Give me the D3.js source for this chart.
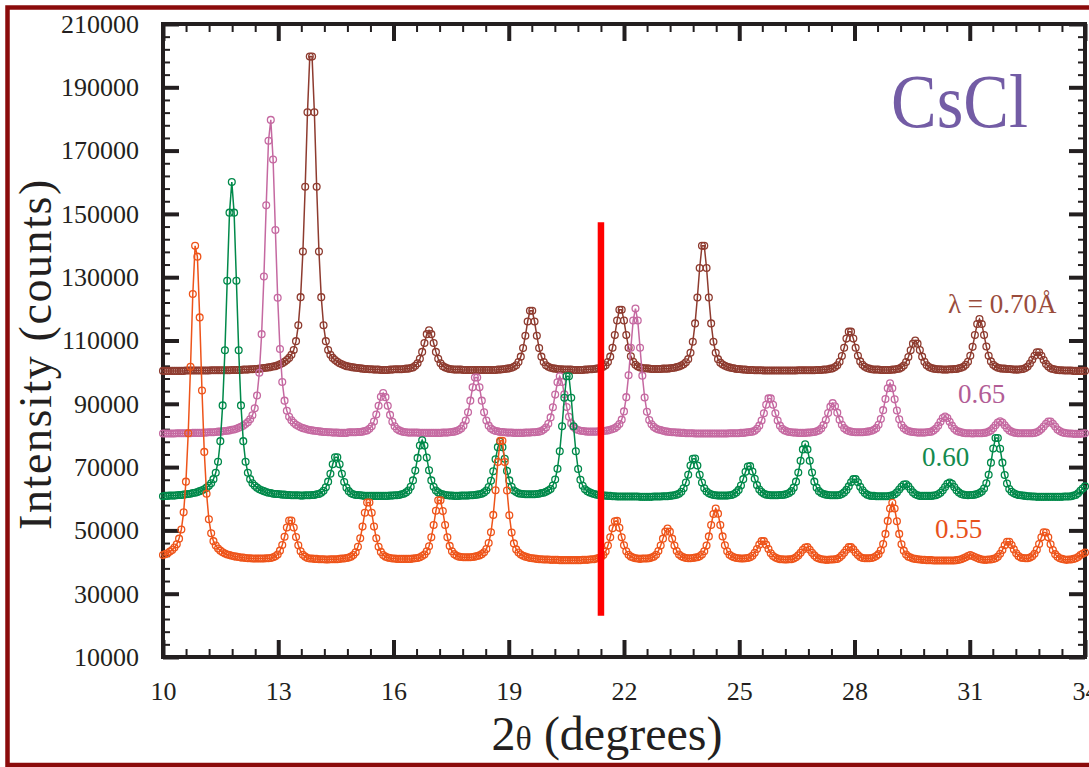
<!DOCTYPE html>
<html>
<head>
<meta charset="utf-8">
<script src="https://cdn.jsdelivr.net/npm/d3@7"></script>
<style>
  html, body { margin: 0; padding: 0; background: #ffffff; }
  svg { display: block; }
</style>
</head>
<body>
<svg id="chart" width="1089" height="767"></svg>
<script>
// Powder diffraction scans of CsCl recorded at four wavelengths.
// Every scan starts at 2θ = 10° and advances by a constant step per point.
const scanStart = 10;
const scanStep = 0.0597;

// λ = 0.70 Å (counts)
const int070 = [
100400,100400,100400,100400,100400,100400,100400,100400,100400,100400,100500,100500,100500,100500,100500,100500,100500,100500,100500,100500,
100500,100600,100600,100600,100600,100600,100600,100600,100600,100600,100700,100700,100700,100700,100700,100800,100800,100800,100900,100900,
101000,101000,101100,101200,101300,101400,101500,101600,101800,101900,102200,102500,102800,103300,103800,104500,105500,107000,109800,114800,
123700,138100,158600,182100,199700,199700,182100,158600,138100,123700,114800,109800,107000,105500,104500,103800,103300,102800,102500,102200,
101900,101800,101600,101500,101400,101300,101200,101100,101000,101000,100900,100900,100800,100800,100800,100700,100700,100700,100700,100800,
100800,100900,100900,100900,100900,101000,101100,101100,101300,101500,102000,102800,104200,106400,109200,112000,113200,112000,109200,106400,
104200,102800,101900,101500,101200,101000,100900,100800,100800,100800,100800,100700,100700,100700,100700,100700,100700,100700,100700,100700,
100700,100700,100700,100700,100700,100700,100800,100800,100900,101000,101100,101200,101400,101700,102200,103200,104900,107600,111500,116000,
119400,119400,116000,111500,107600,104900,103200,102200,101700,101400,101200,101100,101000,100900,100900,100800,100800,100800,100800,100700,
100700,100700,100700,100700,100800,100800,100900,100900,101000,101100,101200,101400,101700,102200,103200,104900,107700,111700,116300,119700,
119700,116300,111700,107700,105000,103300,102300,101800,101500,101300,101200,101200,101100,101000,101000,101000,101000,101000,101100,101100,
101100,101200,101300,101400,101600,101800,102100,102500,103100,104100,106100,109600,115400,123600,132900,139900,139900,132900,123600,115400,
109600,106100,104100,103000,102400,102000,101700,101500,101300,101200,101000,101000,100900,100800,100800,100700,100700,100700,100600,100600,
100600,100600,100500,100500,100500,100500,100500,100500,100500,100500,100500,100500,100500,100500,100500,100500,100500,100600,100600,100600,
100600,100600,100600,100600,100600,100700,100700,100700,100800,100800,100900,101100,101200,101600,102200,103300,105100,107700,110600,112800,
112800,110600,107700,105200,103400,102300,101700,101300,101100,100900,100800,100800,100800,100700,100700,100700,100700,100700,100800,100800,
101000,101100,101500,102100,103200,104800,106900,109000,110000,109000,107000,104900,103300,102200,101600,101300,101100,101000,100900,100900,
100800,100800,100800,100900,100900,101000,101000,101200,101400,101700,102300,103300,105200,108000,111700,115200,116800,115200,111700,108100,
105200,103400,102300,101800,101400,101200,101100,101100,101000,101000,100900,100800,100800,100800,100900,101000,101300,101800,102700,103900,
105200,106300,106300,105200,103800,102600,101800,101200,101000,100800,100700,100600,100600,100500,100500,100500,100500,100400,100400,100400,
100400,100400,100400
];

// λ = 0.65 Å (counts)
const int065 = [
80600,80600,80600,80600,80600,80600,80700,80700,80700,80700,80700,80700,80700,80800,80800,80800,80800,80800,80900,80900,
81000,81000,81000,81100,81200,81200,81300,81400,81500,81600,81800,81900,82100,82400,82700,83100,83600,84200,85100,86400,
88600,92600,99800,112000,130200,152700,173100,179700,167200,144900,123500,107300,96900,91000,87800,85900,84800,84000,83400,83000,
82600,82300,82100,81900,81700,81600,81500,81400,81300,81200,81100,81100,81000,81000,80900,80900,80900,80800,80800,80800,
80800,81000,81000,81000,81000,81100,81100,81200,81400,81600,82100,82900,84400,86600,89400,92200,93400,92100,89400,86500,
84300,82900,82000,81600,81300,81100,81000,80900,80900,80900,80900,80900,80800,80800,80800,80800,80800,80800,80800,80800,
80800,80800,80900,80900,80900,81000,81100,81200,81400,81700,82200,83100,84700,87300,91000,95200,98300,98300,95200,91000,
87300,84700,83100,82200,81700,81400,81300,81100,81100,81000,80900,80900,80900,80800,80800,80800,80800,80800,80900,80900,
80900,81000,81000,81100,81200,81400,81900,82500,83700,85700,88900,92900,96800,98700,96900,93000,89000,85900,83800,82700,
82000,81700,81500,81400,81300,81200,81200,81200,81200,81200,81300,81300,81400,81500,81600,81800,82000,82300,82800,83600,
85000,87600,92100,99000,107700,116300,120100,116300,107700,98900,92000,87500,84900,83500,82700,82200,81900,81700,81500,81300,
81200,81100,81000,81000,80900,80900,80800,80800,80700,80700,80700,80700,80600,80600,80600,80600,80600,80600,80600,80600,
80600,80600,80600,80600,80600,80600,80600,80700,80700,80700,80700,80700,80800,80800,80900,81000,81100,81200,81500,82100,
83100,84700,87000,89700,91700,91700,89700,87000,84700,83100,82100,81600,81300,81100,81000,80900,80900,80800,80800,80800,
80800,80900,80900,81000,81100,81300,81600,82200,83300,84900,87100,89100,90200,89200,87200,85000,83400,82300,81700,81400,
81200,81100,81000,81000,81000,81000,81100,81200,81300,81500,81800,82300,83400,85200,88000,91500,94900,96500,94900,91400,
87900,85100,83300,82300,81700,81400,81200,81100,81000,80900,80900,80900,80900,81000,81100,81200,81600,82200,83100,84300,
85500,86000,85500,84300,83100,82100,81500,81200,81000,80800,80700,80700,80700,80600,80700,80700,80700,80700,80800,80900,
81200,81600,82300,83200,84100,84500,84100,83200,82300,81600,81200,80900,80800,80700,80700,80700,80700,80700,80700,80700,
80800,81000,81400,82000,82800,83700,84400,84400,83700,82800,81900,81400,81000,80800,80700,80600,80600,80500,80500,80500,
80500,80600,80700
];

// λ = 0.60 Å (counts)
const int060 = [
60800,60900,60900,61000,61000,61000,61100,61200,61200,61300,61400,61500,61600,61800,61900,62100,62400,62700,63000,63500,
64100,64900,66200,68200,71700,78200,89500,106900,128900,150400,160100,150400,128900,106900,89500,78200,71700,68200,66200,64900,
64100,63500,63000,62700,62400,62100,61900,61800,61600,61500,61500,61400,61300,61300,61200,61200,61100,61100,61100,61100,
61000,61000,61100,61100,61100,61200,61200,61400,61500,61900,62500,63600,65400,67900,70900,73100,73100,70900,67900,65300,
63500,62400,61700,61400,61200,61200,61100,61000,60900,60900,60900,60900,60900,60900,60900,60900,60900,60900,60900,61000,
61000,61100,61100,61200,61400,61600,62000,62600,63800,65800,68900,72900,76800,78500,76800,73000,69000,65800,63800,62600,
62000,61600,61400,61200,61100,61000,61000,60900,60900,60900,61000,61000,61000,61000,61100,61100,61200,61300,61400,61600,
62000,62600,63700,65700,68700,72500,76300,78000,76300,72600,68800,65800,63800,62600,62100,61700,61600,61500,61400,61400,
61400,61400,61400,61500,61600,61800,61900,62200,62600,63100,64200,66100,69500,75000,82900,91900,98700,98700,91900,82900,
75000,69400,66000,64100,63000,62400,62000,61700,61500,61300,61200,61100,61000,61000,60900,60900,60800,60800,60700,60700,
60700,60700,60700,60700,60700,60700,60700,60700,60600,60600,60600,60600,60600,60600,60700,60700,60700,60700,60800,60800,
60800,60900,61000,61100,61300,61600,62200,63300,65100,67600,70500,72600,72700,70500,67600,65100,63300,62300,61700,61400,
61200,61100,61000,61000,61000,61000,61000,61100,61200,61500,62000,62800,64200,66200,68500,70200,70300,68600,66300,64300,
62900,62100,61600,61300,61200,61100,61100,61100,61100,61200,61200,61300,61500,61800,62400,63500,65400,68300,72000,75600,
77200,75600,72000,68300,65400,63500,62400,61800,61500,61300,61200,61100,61100,61100,61100,61200,61500,62000,62800,63900,
65200,66200,66200,65200,63800,62700,61800,61300,61000,60900,60900,60800,60800,60800,60800,60800,60800,60900,61100,61400,
62000,62900,63800,64500,64600,63900,62900,62000,61400,61100,60900,60900,60900,60900,60900,60900,61000,61100,61400,61900,
62700,63700,64700,65100,64700,63700,62700,62000,61500,61300,61200,61100,61200,61200,61300,61500,61800,62300,63200,64900,
67600,71400,75900,79200,79200,75800,71400,67500,64800,63100,62200,61700,61400,61200,61100,61000,60900,60800,60800,60700,
60700,60600,60600,60600,60600,60600,60600,60600,60600,60600,60600,60600,60600,60700,60700,60700,60800,61000,61200,61700,
62500,63200,63900
];

// λ = 0.55 Å (counts)
const int055 = [
42200,42500,42800,43300,43800,44600,45600,47400,50300,55700,65400,80700,101700,124700,139900,136500,117300,94200,74800,61600,
53500,49100,46600,45200,44300,43600,43100,42700,42400,42200,42000,41800,41700,41600,41400,41400,41300,41200,41200,41100,
41100,41100,41100,41100,41100,41200,41200,41300,41500,41800,42400,43600,45400,48000,50900,53100,53100,50900,47900,45300,
43400,42300,41700,41300,41100,41100,41000,41000,40900,40900,40900,40800,40800,40900,40900,40900,40900,41000,41100,41100,
41300,41400,41700,42200,43100,44800,47500,51200,55600,58800,58800,55600,51200,47500,44800,43200,42200,41700,41400,41300,
41100,41100,41000,41000,41000,41000,41000,41000,41000,41100,41200,41300,41500,41900,42400,43400,45000,47800,51700,56200,
59500,59500,56100,51700,47800,45100,43400,42500,42000,41700,41600,41500,41500,41500,41500,41600,41700,41900,42100,42500,
43100,44100,46000,49400,54900,62700,71600,78300,78300,71600,62600,54800,49300,45900,44000,43000,42400,42000,41700,41500,
41300,41200,41100,41000,40900,40900,40800,40800,40800,40700,40700,40700,40700,40600,40600,40600,40600,40600,40600,40600,
40600,40600,40600,40700,40700,40700,40800,40900,40900,41100,41300,41600,42200,43300,45200,47800,50700,52900,53000,50800,
47800,45300,43400,42300,41700,41400,41200,41100,41000,41100,41100,41100,41200,41400,41700,42300,43500,45200,47400,49600,
50600,49600,47400,45200,43500,42400,41800,41500,41300,41200,41200,41300,41400,41500,41800,42400,43400,45200,48100,51700,
55200,56900,55300,51700,48100,45300,43400,42300,41800,41500,41300,41200,41100,41100,41200,41300,41500,42000,42900,44100,
45500,46600,46600,45500,44100,42800,41900,41400,41100,40900,40900,40800,40800,40900,40900,41100,41500,42100,42900,43900,
44600,44700,43900,42900,42100,41400,41100,40900,40800,40700,40700,40800,40800,40900,41000,41400,42100,42900,43900,44700,
44700,44000,43000,42200,41600,41300,41200,41200,41200,41300,41500,41900,42500,43700,45700,48900,53000,56900,58700,56900,
52900,48900,45600,43600,42400,41700,41400,41100,41000,40900,40800,40700,40700,40600,40600,40600,40500,40500,40500,40500,
40500,40500,40500,40500,40500,40500,40600,40700,40900,41200,41500,41900,42200,41900,41600,41300,41000,40800,40700,40700,
40800,40800,41000,41200,41700,42600,43800,45300,46400,46400,45400,44000,42800,41900,41400,41300,41200,41200,41400,41800,
42600,43900,45700,47800,49400,49300,47800,45600,43800,42500,41700,41200,41000,40800,40700,40800,40800,41000,41200,41600,
42200,42600,43000
];

const seriesLabels = ["λ = 0.70Å", "0.65", "0.60", "0.55"];
const xTickValues = [10, 13, 16, 19, 22, 25, 28, 31, 34];
const yTickValues = [10000, 30000, 50000, 70000, 90000, 110000, 130000, 150000, 170000, 190000, 210000];

// Vertical marker across the scans: position and extent in data units
const markerTwoTheta = 21.4;
const markerFrom = 23000;
const markerTo = 147400;

// ---------------------------------------------------------------------------
const svg = d3.select("#chart");
const frame = { left: 163, right: 1085, top: 24, bottom: 657 };
const ink = "#231f20";
const serif = "'Liberation Serif', 'Times New Roman', Times, serif";

const x = d3.scaleLinear().domain([10, 34]).range([frame.left, frame.right]);
const y = d3.scaleLinear().domain([10000, 210000]).range([frame.bottom, frame.top]);

const twoTheta = int070.map((_, i) => scanStart + scanStep * i);

svg.append("rect").attr("width", 1089).attr("height", 767).attr("fill", "#ffffff");

// Outer border
svg.append("rect")
  .attr("x", 7.5).attr("y", 7.5).attr("width", 1110).attr("height", 757.5)
  .attr("fill", "none").attr("stroke", "#8b0b0b").attr("stroke-width", 4.5);

// Ticks on all four sides, pointing inwards
const xMinor = d3.range(10, 34.001, 0.6).filter(v => !xTickValues.some(t => Math.abs(t - v) < 1e-6));
const yMinor = d3.range(10000, 210001, 4000).filter(v => !yTickValues.includes(v));

function ticks(axisGen, transform, values, size, width) {
  const g = svg.append("g").attr("transform", transform)
    .call(axisGen.tickValues(values).tickSize(size).tickSizeOuter(0).tickFormat(""));
  g.select(".domain").remove();
  g.selectAll(".tick line").attr("stroke", ink).attr("stroke-width", width);
}
ticks(d3.axisBottom(x), `translate(0,${frame.bottom})`, xTickValues, -17, 4);
ticks(d3.axisBottom(x), `translate(0,${frame.bottom})`, xMinor, -8, 2);
ticks(d3.axisTop(x), `translate(0,${frame.top})`, xTickValues, -17, 4);
ticks(d3.axisTop(x), `translate(0,${frame.top})`, xMinor, -8, 2);
ticks(d3.axisLeft(y), `translate(${frame.left},0)`, yTickValues, -16, 4);
ticks(d3.axisLeft(y), `translate(${frame.left},0)`, yMinor, -7, 2);
ticks(d3.axisRight(y), `translate(${frame.right},0)`, yTickValues, -16, 4);
ticks(d3.axisRight(y), `translate(${frame.right},0)`, yMinor, -7, 2);

svg.append("rect")
  .attr("x", frame.left).attr("y", frame.top)
  .attr("width", frame.right - frame.left).attr("height", frame.bottom - frame.top)
  .attr("fill", "none").attr("stroke", ink).attr("stroke-width", 4);

// Tick labels
const xLabels = svg.append("g").attr("transform", `translate(0,${frame.bottom})`)
  .call(d3.axisBottom(x).tickValues(xTickValues).tickSize(0).tickPadding(25).tickFormat(d3.format("d")));
xLabels.select(".domain").remove();
xLabels.selectAll("text").attr("font-family", serif).attr("font-size", 26).attr("fill", ink);

const yLabels = svg.append("g").attr("transform", `translate(${frame.left},0)`)
  .call(d3.axisLeft(y).tickValues(yTickValues).tickSize(0).tickPadding(24).tickFormat(d3.format("d")));
yLabels.select(".domain").remove();
yLabels.selectAll("text").attr("font-family", serif).attr("font-size", 26).attr("fill", ink);

// Axis titles
const xTitle = svg.append("text")
  .attr("x", 607).attr("y", 750).attr("text-anchor", "middle")
  .attr("font-family", serif).attr("font-size", 48).attr("fill", ink);
xTitle.append("tspan").text("2");
xTitle.append("tspan").attr("font-size", 34).text("θ");
xTitle.append("tspan").text(" (degrees)");

svg.append("text")
  .attr("transform", "translate(51,354) rotate(-90)")
  .attr("text-anchor", "middle")
  .attr("font-family", serif).attr("font-size", 46).attr("letter-spacing", 1.6)
  .attr("fill", ink)
  .text("Intensity (counts)");

// Scans: connecting line plus open circle markers
const series = [
  { values: int070, color: "#8e3b2f" },
  { values: int065, color: "#c569a1" },
  { values: int060, color: "#00894a" },
  { values: int055, color: "#ee541a" }
];
const line = d3.line().x((d, i) => x(twoTheta[i])).y(d => y(d));

series.forEach(s => {
  const g = svg.append("g");
  g.append("path").datum(s.values)
    .attr("d", line).attr("fill", "none")
    .attr("stroke", s.color).attr("stroke-width", 1.5);
  g.selectAll("circle").data(s.values).join("circle")
    .attr("cx", (d, i) => x(twoTheta[i])).attr("cy", d => y(d)).attr("r", 3.4)
    .attr("fill", "none").attr("stroke", s.color).attr("stroke-width", 1.3);
});

// Red marker line
svg.append("line")
  .attr("x1", x(markerTwoTheta)).attr("x2", x(markerTwoTheta))
  .attr("y1", y(markerFrom)).attr("y2", y(markerTo))
  .attr("stroke", "#ff0000").attr("stroke-width", 6.5);

// Wavelength labels
const labelStyle = [
  { x: 948, y: 313, color: "#9a4c3c" },
  { x: 958, y: 403, color: "#b25d96" },
  { x: 922, y: 466, color: "#138a4e" },
  { x: 935, y: 538, color: "#e8521c" }
];
seriesLabels.forEach((t, i) => {
  svg.append("text")
    .attr("x", labelStyle[i].x).attr("y", labelStyle[i].y)
    .attr("font-family", serif).attr("font-size", 27)
    .attr("fill", labelStyle[i].color).text(t);
});

// Compound name
svg.append("text")
  .attr("x", 891).attr("y", 127)
  .attr("font-family", serif).attr("font-size", 76)
  .attr("textLength", 137).attr("lengthAdjust", "spacingAndGlyphs")
  .attr("fill", "#735ca5").text("CsCl");
</script>
</body>
</html>
